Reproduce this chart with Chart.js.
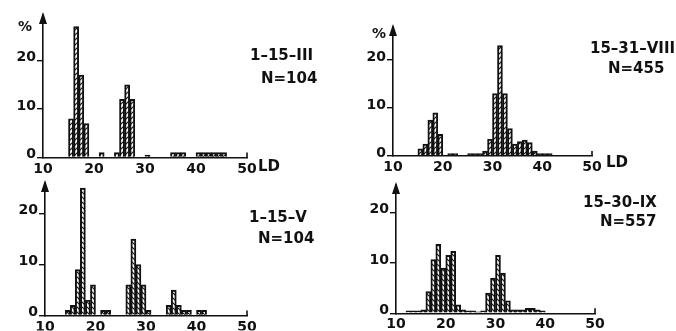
<!DOCTYPE html>
<html>
<head>
<meta charset="utf-8">
<script src="https://cdn.jsdelivr.net/npm/chart.js@4/dist/chart.umd.min.js"></script>
<style>
  body { margin: 0; background: #fff; }
  #wrap { position: relative; width: 676px; height: 331px; overflow: hidden; }
  canvas { position: absolute; }
  .lbl { position: absolute; font: bold 15px "DejaVu Sans", sans-serif; line-height: 15px; color: #111; white-space: nowrap; }
  .sm { font-size: 14px; }
</style>
</head>
<body>
<div id="wrap">
  <canvas id="c1" width="338" height="180" style="left:0;top:0"></canvas>
  <canvas id="c2" width="338" height="180" style="left:338px;top:0"></canvas>
  <canvas id="c3" width="338" height="161" style="left:0;top:170px"></canvas>
  <canvas id="c4" width="338" height="161" style="left:338px;top:170px"></canvas>

  <div class="lbl sm" style="left:18px;top:19px">%</div>
  <div class="lbl sm" style="left:372px;top:26px">%</div>
  <div class="lbl" style="left:258px;top:159px">LD</div>
  <div class="lbl" style="left:606px;top:155px">LD</div>

  <div class="lbl" style="left:250px;top:48px">1–15–III</div>
  <div class="lbl" style="left:261px;top:71px">N=104</div>
  <div class="lbl" style="left:590px;top:41px">15–31–VIII</div>
  <div class="lbl" style="left:608px;top:61px">N=455</div>
  <div class="lbl" style="left:249px;top:210px">1–15–V</div>
  <div class="lbl" style="left:258px;top:231px">N=104</div>
  <div class="lbl" style="left:583px;top:195px">15–30–IX</div>
  <div class="lbl" style="left:600px;top:214px">N=557</div>
</div>

<script>
    const ink = '#111';

    // length classes (LD), 1-unit bins starting at these values
    const ldBins = [10, 11, 12, 13, 14, 15, 16, 17, 18, 19,
                    20, 21, 22, 23, 24, 25, 26, 27, 28, 29,
                    30, 31, 32, 33, 34, 35, 36, 37, 38, 39,
                    40, 41, 42, 43, 44, 45, 46, 47, 48, 49];
    const xTicks = [10, 20, 30, 40, 50];
    const yTicks = [0, 10, 20];

    // % per bin, one array per sampling period
    const pctMarch = [0, 0, 0, 0, 0, 8, 27, 17, 7, 0,
                      0, 1, 0, 0, 1, 12, 15, 12, 0, 0,
                      0.5, 0, 0, 0, 0, 1, 1, 1, 0, 0,
                      1, 1, 1, 1, 1, 1, 0, 0, 0, 0];
    const pctAugust = [0, 0, 0, 0, 0, 1.5, 2.5, 7.5, 9, 4.5,
                       0, 0.5, 0.5, 0, 0, 0.5, 0.5, 0.5, 1, 3.5,
                       13, 23, 13, 5.7, 2.5, 3, 3.3, 2.8, 1, 0.5,
                       0.5, 0.5, 0, 0, 0, 0, 0, 0, 0, 0];
    const pctMay = [0, 0, 0, 0, 1, 2, 9, 25, 3, 6,
                    0, 1, 1, 0, 0, 0, 6, 15, 10, 6,
                    1, 0, 0, 0, 2, 5, 2, 1, 1, 0,
                    1, 1, 0, 0, 0, 0, 0, 0, 0, 0];
    const pctSeptember = [0, 0, 0.5, 0.5, 0.5, 0.7, 4.3, 10.7, 13.7, 9,
                          11.5, 12.3, 1.7, 0.7, 0.5, 0.5, 0.3, 0.5, 4, 7,
                          11.5, 8, 2.5, 0.7, 0.7, 0.7, 1, 1, 0.7, 0.5,
                          0, 0, 0, 0, 0, 0, 0, 0, 0, 0];

    function hatch(ctx, dir) {
        const s = 5;
        const c = document.createElement('canvas');
        c.width = s; c.height = s;
        const g = c.getContext('2d');
        g.strokeStyle = ink;
        g.lineWidth = 1.1;
        g.beginPath();
        if (dir === '/') {
            g.moveTo(-1, s + 1); g.lineTo(s + 1, -1);
            g.moveTo(-1, 1); g.lineTo(1, -1);
            g.moveTo(s - 1, s + 1); g.lineTo(s + 1, s - 1);
        } else {
            g.moveTo(-1, -1); g.lineTo(s + 1, s + 1);
            g.moveTo(s - 1, -1); g.lineTo(s + 1, 1);
            g.moveTo(-1, s - 1); g.lineTo(1, s + 1);
        }
        g.stroke();
        return ctx.createPattern(c, 'repeat');
    }

    // arrow on the % axis and the closing tick at 50
    const axisDecor = {
        id: 'axisDecor',
        afterDraw(chart) {
            const { ctx, chartArea: a } = chart;
            ctx.save();
            ctx.fillStyle = ink;
            ctx.beginPath();
            ctx.moveTo(a.left, a.top - 3);
            ctx.lineTo(a.left - 4, a.top + 9);
            ctx.lineTo(a.left + 4, a.top + 9);
            ctx.closePath();
            ctx.fill();
            ctx.strokeStyle = ink;
            ctx.lineWidth = 1.6;
            ctx.beginPath();
            ctx.moveTo(a.right, a.bottom);
            ctx.lineTo(a.right, a.bottom - 5);
            ctx.stroke();
            ctx.restore();
        }
    };

    function drawPanel(id, values, dir, box) {
        const ctx = document.getElementById(id).getContext('2d');
        const points = ldBins.map((b, i) => ({ x: b + 0.5, y: values[i] || null }));
        new Chart(ctx, {
            type: 'bar',
            data: {
                datasets: [{
                    data: points,
                    backgroundColor: hatch(ctx, dir),
                    borderColor: ink,
                    borderWidth: 1.3,
                    borderSkipped: 'start',
                    barPercentage: 1,
                    categoryPercentage: 1
                }]
            },
            options: {
                responsive: false,
                animation: false,
                events: [],
                layout: { padding: { left: 0, right: box.right, top: box.top, bottom: box.bottom } },
                plugins: { legend: { display: false }, tooltip: { enabled: false } },
                scales: {
                    x: {
                        type: 'linear',
                        min: 10, max: 50,
                        offset: false,
                        afterFit: s => { s.height = box.xh; },
                        afterBuildTicks: s => { s.ticks = xTicks.map(v => ({ value: v })); },
                        grid: { display: false, offset: false, drawTicks: false, tickLength: 0 },
                        border: { display: true, color: ink, width: 1.6 },
                        ticks: {
                            color: ink, padding: 3, maxRotation: 0, autoSkip: false,
                            font: { family: 'DejaVu Sans', weight: 'bold', size: 14 }
                        }
                    },
                    y: {
                        min: 0, max: box.ymax,
                        afterFit: s => { s.width = box.yw; },
                        afterBuildTicks: s => { s.ticks = yTicks.map(v => ({ value: v })); },
                        grid: { drawOnChartArea: false, color: ink, lineWidth: 1.4, tickLength: 6 },
                        border: { display: true, color: ink, width: 1.6 },
                        ticks: {
                            color: ink, padding: 1, labelOffset: -3,
                            font: { family: 'DejaVu Sans', weight: 'bold', size: 14 }
                        }
                    }
                }
            },
            plugins: [axisDecor]
        });
    }

    drawPanel('c1', pctMarch, '/', { yw: 43, right: 91, top: 15, bottom: 2.5, xh: 20, ymax: 29.4 });
    drawPanel('c2', pctAugust, '/', { yw: 55, right: 84, top: 27, bottom: 4, xh: 20, ymax: 26.9 });
    drawPanel('c3', pctMay, '\\', { yw: 45, right: 91, top: 13, bottom: 0.5, xh: 15, ymax: 26 });
    drawPanel('c4', pctSeptember, '\\', { yw: 58, right: 81, top: 15, bottom: 2.7, xh: 15, ymax: 25.5 });
</script>
</body>
</html>
